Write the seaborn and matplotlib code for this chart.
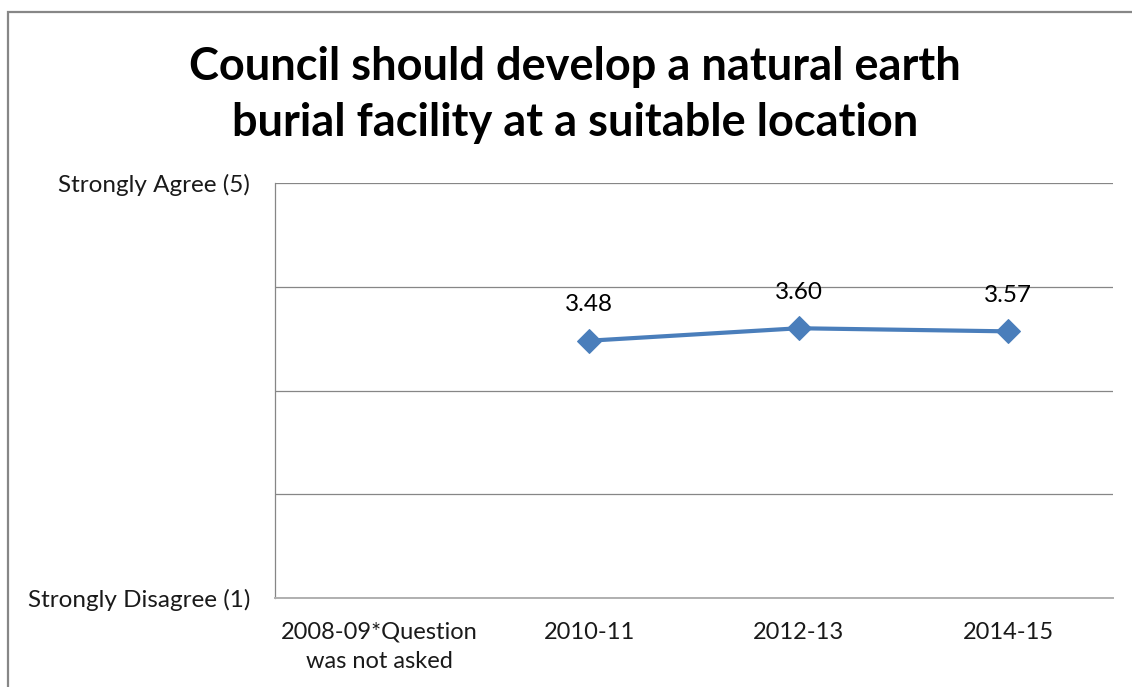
import numpy as np
import pandas as pd
import matplotlib
matplotlib.use("Agg")
import matplotlib.pyplot as plt
from matplotlib.patches import Rectangle
import seaborn as sns

# Survey results (mean rating on a 1-5 scale); 2008-09 was not asked
categories = ["2008-09*Question\nwas not asked", "2010-11", "2012-13", "2014-15"]
scores = [np.nan, 3.48, 3.60, 3.57]
y_ticks = [1, 2, 3, 4, 5]
y_tick_labels = ["Strongly Disagree (1)", "", "", "", "Strongly Agree (5)"]
title = "Council should develop a natural earth\nburial facility at a suitable location"

sns.set_theme(style="white")
plt.rcParams["font.family"] = ["Lato", "DejaVu Sans"]

df = pd.DataFrame({"pos": np.arange(len(categories)), "score": scores})

fig = plt.figure(figsize=(11.32, 6.87), dpi=100)
ax = fig.add_axes([275 / 1132, 1 - 598 / 687, (1113 - 275) / 1132, (598 - 183) / 687])

line_color = "#4A7EBB"
sns.lineplot(data=df.dropna(), x="pos", y="score", ax=ax, color=line_color,
             linewidth=3.0, marker="D", markersize=12, markeredgecolor=line_color)

for x, v in zip(df["pos"], df["score"]):
    if not np.isnan(v):
        ax.annotate(f"{v:.2f}", (x, v), xytext=(0, 26), textcoords="offset points",
                    ha="center", va="center", fontsize=17.5, color="#000000")

ax.set_xlim(-0.5, len(categories) - 0.5)
ax.set_ylim(1, 5)
ax.set_yticks(y_ticks)
ax.set_yticklabels(y_tick_labels, fontsize=17.5, color="#1a1a1a")
ax.set_xticks(df["pos"])
ax.set_xticklabels(categories, fontsize=17, color="#1a1a1a", linespacing=1.5)
ax.tick_params(axis="y", length=0, pad=18)
ax.tick_params(axis="x", length=0, pad=17)
ax.set_xlabel("")
ax.set_ylabel("")
ax.grid(axis="y", color="#868686", linewidth=0.9)
ax.grid(axis="x", visible=False)
for side in ["top", "right"]:
    ax.spines[side].set_visible(False)
ax.spines["left"].set_color("#868686")
ax.spines["left"].set_linewidth(0.9)
ax.spines["bottom"].set_color("#b0b0b0")
ax.spines["bottom"].set_linewidth(1.4)

fig.text(575 / 1132, 1 - 95 / 687, title, ha="center", va="center",
         fontsize=32.5, fontweight="bold", color="#000000", linespacing=1.41)

# chart frame
fig.patches.append(Rectangle((8 / 1132, -0.1), 1.2, 1.1 - 12 / 687,
                             transform=fig.transFigure, fill=False,
                             edgecolor="#878787", linewidth=1.6))

fig.savefig("out.png", dpi=100, facecolor="white")
